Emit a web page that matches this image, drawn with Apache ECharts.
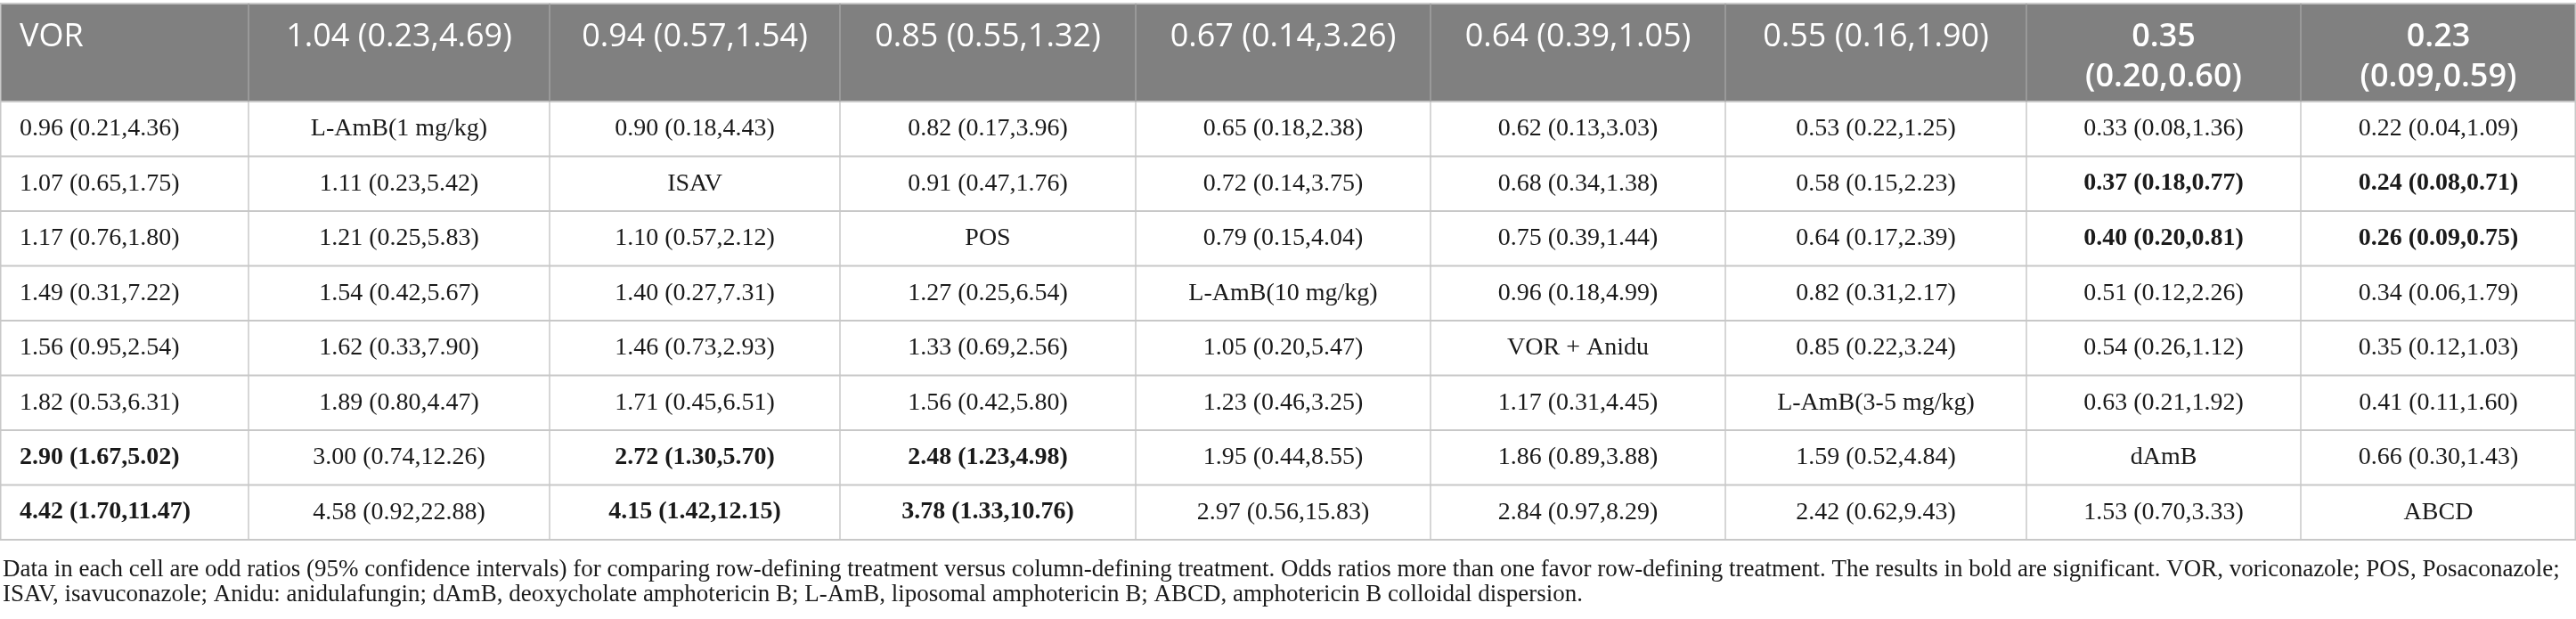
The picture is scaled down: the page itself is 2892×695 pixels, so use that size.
<!DOCTYPE html>
<html><head><meta charset="utf-8">
<script src="https://cdn.jsdelivr.net/npm/echarts@6/dist/echarts.min.js"></script>
<style>html,body{margin:0;padding:0;background:#fff}#c{width:2892px;height:695px}</style>
</head><body><div id="c"></div><script>
// ---- data ----
const treatments = ['VOR','L-AmB(1 mg/kg)','ISAV','POS','L-AmB(10 mg/kg)','VOR + Anidu','L-AmB(3-5 mg/kg)','dAmB','ABCD'];
const oddsRatio = [
 [null,1.04,0.94,0.85,0.67,0.64,0.55,0.35,0.23],
 [0.96,null,0.90,0.82,0.65,0.62,0.53,0.33,0.22],
 [1.07,1.11,null,0.91,0.72,0.68,0.58,0.37,0.24],
 [1.17,1.21,1.10,null,0.79,0.75,0.64,0.40,0.26],
 [1.49,1.54,1.40,1.27,null,0.96,0.82,0.51,0.34],
 [1.56,1.62,1.46,1.33,1.05,null,0.85,0.54,0.35],
 [1.82,1.89,1.71,1.56,1.23,1.17,null,0.63,0.41],
 [2.90,3.00,2.72,2.48,1.95,1.86,1.59,null,0.66],
 [4.42,4.58,4.15,3.78,2.97,2.84,2.42,1.53,null]
];
const ciLower = [
 [null,0.23,0.57,0.55,0.14,0.39,0.16,0.20,0.09],
 [0.21,null,0.18,0.17,0.18,0.13,0.22,0.08,0.04],
 [0.65,0.23,null,0.47,0.14,0.34,0.15,0.18,0.08],
 [0.76,0.25,0.57,null,0.15,0.39,0.17,0.20,0.09],
 [0.31,0.42,0.27,0.25,null,0.18,0.31,0.12,0.06],
 [0.95,0.33,0.73,0.69,0.20,null,0.22,0.26,0.12],
 [0.53,0.80,0.45,0.42,0.46,0.31,null,0.21,0.11],
 [1.67,0.74,1.30,1.23,0.44,0.89,0.52,null,0.30],
 [1.70,0.92,1.42,1.33,0.56,0.97,0.62,0.70,null]
];
const ciUpper = [
 [null,4.69,1.54,1.32,3.26,1.05,1.90,0.60,0.59],
 [4.36,null,4.43,3.96,2.38,3.03,1.25,1.36,1.09],
 [1.75,5.42,null,1.76,3.75,1.38,2.23,0.77,0.71],
 [1.80,5.83,2.12,null,4.04,1.44,2.39,0.81,0.75],
 [7.22,5.67,7.31,6.54,null,4.99,2.17,2.26,1.79],
 [2.54,7.90,2.93,2.56,5.47,null,3.24,1.12,1.03],
 [6.31,4.47,6.51,5.80,3.25,4.45,null,1.92,1.60],
 [5.02,12.26,5.70,4.98,8.55,3.88,4.84,null,1.43],
 [11.47,22.88,12.15,10.76,15.83,8.29,9.43,3.33,null]
];
const footnoteLines = [
 'Data in each cell are odd ratios (95% confidence intervals) for comparing row-defining treatment versus column-defining treatment. Odds ratios more than one favor row-defining treatment. The results in bold are significant. VOR, voriconazole; POS, Posaconazole;',
 'ISAV, isavuconazole; Anidu: anidulafungin; dAmB, deoxycholate amphotericin B; L-AmB, liposomal amphotericin B; ABCD, amphotericin B colloidal dispersion.'
];

// ---- layout (relative column widths / row heights) ----
const colWeights = [279,338,326,332,331,331,338,308,309];
const headerWeight = 110/61.5;
const colEdges = [0];
colWeights.forEach(w => colEdges.push(colEdges[colEdges.length-1] + w));
const totalW = colEdges[colEdges.length-1];
const nRows = treatments.length;
const yEdges = [0];
for (let r = 0; r < nRows; r++) yEdges.push(r === 0 ? headerWeight : yEdges[yEdges.length-1] + 1);
const totalH = yEdges[yEdges.length-1];

const HEADER_FONT = '"Open Sans", "Noto Sans", sans-serif';
const BODY_FONT = '"Liberation Serif", "DejaVu Serif", serif';
const HEADER_SIZE = 36;
const BODY_SIZE = 28;
const measureCtx = document.createElement('canvas').getContext('2d');

function cellText(r, c) {
  if (r === c) return treatments[r];
  return oddsRatio[r][c].toFixed(2) + ' (' + ciLower[r][c].toFixed(2) + ',' + ciUpper[r][c].toFixed(2) + ')';
}
function isSig(r, c) {
  if (r === c) return false;
  return ciLower[r][c] > 1 || ciUpper[r][c] < 1;
}
function wrapHeader(txt, weight, avail) {
  measureCtx.font = weight + ' ' + HEADER_SIZE + 'px ' + HEADER_FONT;
  if (measureCtx.measureText(txt).width <= avail) return txt;
  return txt.replace(' ', '\n');
}

const cellData = [];
for (let r = 0; r < nRows; r++) for (let c = 0; c < treatments.length; c++) cellData.push([c, r]);

const lineData = [];
yEdges.forEach((y, i) => lineData.push([0, i]));
colEdges.forEach((x, i) => lineData.push([1, i]));

const HEADER_BG = '#808080';
const GRID = '#c8c8c8';
const HEADER_SEP = '#a2a2a2';

function renderCell(params, api) {
  const c = api.value(0), r = api.value(1);
  const p0 = api.coord([colEdges[c], yEdges[r]]);
  const p1 = api.coord([colEdges[c+1], yEdges[r+1]]);
  const x = p0[0], y = p0[1], w = p1[0]-p0[0], h = p1[1]-p0[1];
  const header = r === 0;
  const children = [{
    type: 'rect', shape: {x, y, width: w, height: h},
    style: {fill: header ? HEADER_BG : '#ffffff'}
  }];
  const left = c === 0;
  const pad = 22;
  const txt = cellText(r, c);
  if (header) {
    const weight = isSig(r, c) ? 600 : 400;
    children.push({
      type: 'text',
      style: {
        text: left ? txt : wrapHeader(txt, weight, w - 2*30),
        x: left ? x + pad : x + w/2, y: y + 15,
        align: left ? 'left' : 'center', verticalAlign: 'top',
        fill: '#ffffff', fontFamily: HEADER_FONT,
        fontSize: HEADER_SIZE, fontWeight: weight, lineHeight: 45
      }
    });
  } else {
    children.push({
      type: 'text',
      style: {
        text: txt, x: left ? x + pad : x + w/2, y: y + h/2,
        align: left ? 'left' : 'center', verticalAlign: 'middle',
        fill: '#1a1a1a', fontFamily: BODY_FONT,
        fontSize: BODY_SIZE, fontWeight: isSig(r, c) ? 'bold' : 'normal'
      }
    });
  }
  return {type: 'group', children};
}

function renderLine(params, api) {
  const kind = api.value(0), i = api.value(1);
  if (kind === 0) {
    const a = api.coord([0, yEdges[i]]), b = api.coord([totalW, yEdges[i]]);
    return {type: 'line', shape: {x1: a[0], y1: a[1], x2: b[0], y2: b[1]},
      style: {stroke: GRID, lineWidth: 2.2}};
  }
  const xv = colEdges[i];
  const children = [];
  const a = api.coord([xv, 0]), m = api.coord([xv, yEdges[1]]), b = api.coord([xv, totalH]);
  let px = a[0];
  if (i === 0) px = 0.75;
  if (i === colEdges.length-1) px = a[0]-0.75;
  const isEdge = (i === 0 || i === colEdges.length-1);
  children.push({type: 'line', shape: {x1: px, y1: a[1], x2: px, y2: m[1]},
    style: {stroke: isEdge ? GRID : HEADER_SEP, lineWidth: 1.5}});
  children.push({type: 'line', shape: {x1: px, y1: m[1], x2: px, y2: b[1]},
    style: {stroke: GRID, lineWidth: 1.5}});
  return {type: 'group', children};
}

const chart = echarts.init(document.getElementById('c'), null, {renderer: 'canvas'});
chart.setOption({
  animation: false,
  grid: {left: 0, right: 0, top: 4, bottom: 89},
  xAxis: {type: 'value', min: 0, max: totalW, show: false},
  yAxis: {type: 'value', min: 0, max: totalH, inverse: true, show: false},
  graphic: footnoteLines.map((t, i) => ({
    type: 'text', x: 3, y: 640 + i*28, silent: true,
    style: {text: t, fill: '#1a1a1a', fontFamily: BODY_FONT,
      fontSize: 27, verticalAlign: 'middle', align: 'left'}
  })),
  series: [
    {type: 'custom', renderItem: renderCell, data: cellData, silent: true, clip: false,
      encode: {x: 0, y: 1}},
    {type: 'custom', renderItem: renderLine, data: lineData, silent: true, clip: false, z: 5}
  ]
});
</script></body></html>
